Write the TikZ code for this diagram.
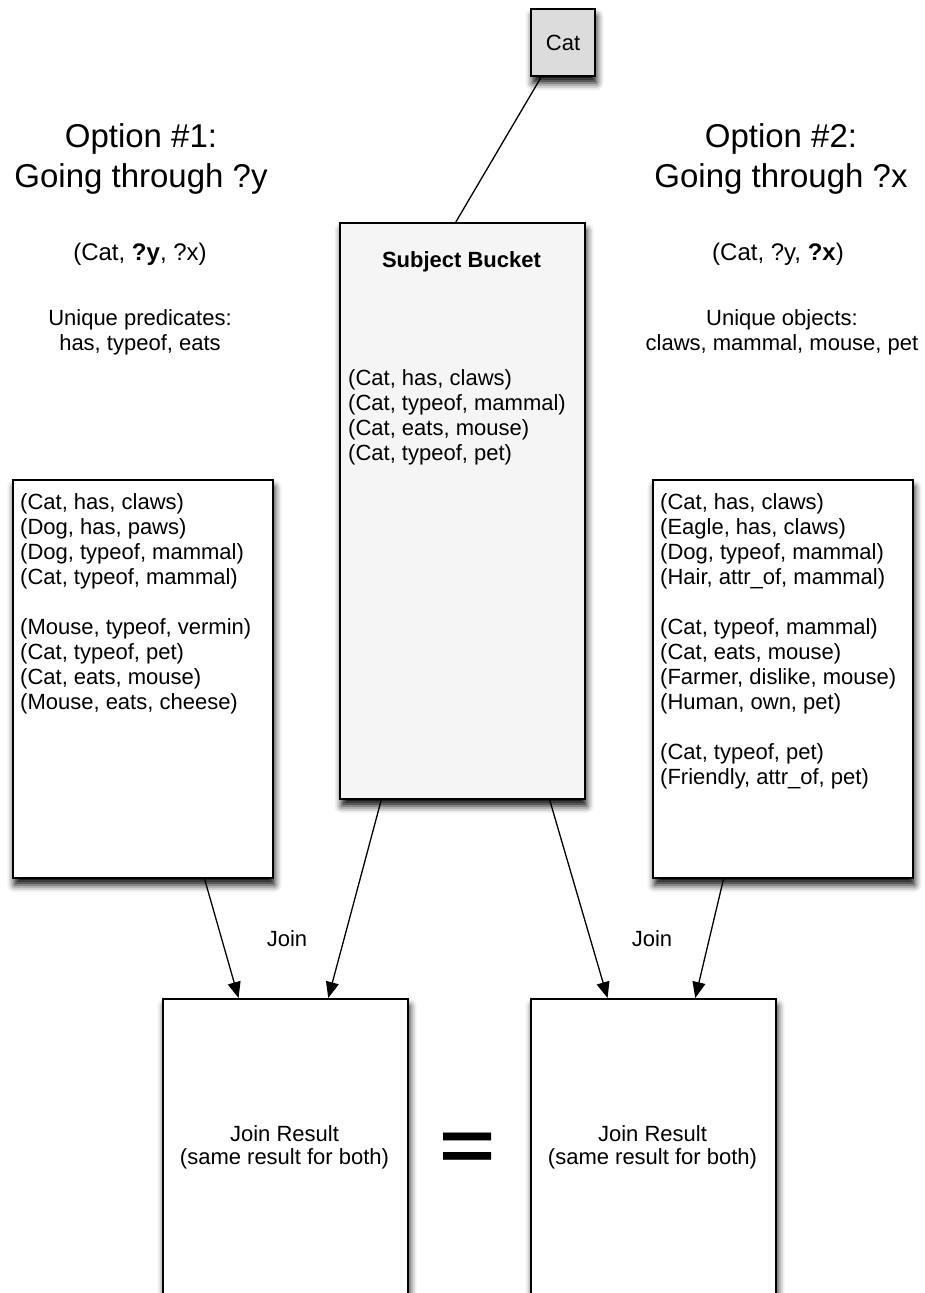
\documentclass[tikz,border=0pt]{standalone}
\usepackage{fontspec}
\setmainfont{Liberation Sans}
\usetikzlibrary{calc,arrows.meta,shadows.blur}
\definecolor{catgray}{HTML}{DCDCDC}
\definecolor{bucketgray}{HTML}{F5F5F5}
\tikzset{
  box/.style={draw=black, line width=2pt, fill=white, rectangle, inner sep=0pt,
    anchor=north west,
    blur shadow={shadow xshift=1.5pt, shadow yshift=-7pt, shadow blur radius=7pt, shadow opacity=95}},
  body/.style={font=\fontsize{22}{25}\selectfont, inner sep=0pt},
  titletext/.style={font=\fontsize{33}{40}\selectfont, inner sep=0pt, align=center, anchor=north},
  tupletext/.style={font=\fontsize{24}{28}\selectfont, inner sep=0pt, anchor=base},
  conn/.style={line width=1.3pt, draw=black},
  arr/.style={conn, -{Triangle[length=16pt,width=13pt]}},
}
\begin{document}
\begin{tikzpicture}[x=1pt,y=-1pt]
\useasboundingbox (0,0) rectangle (925,1293);
\clip (0,0) rectangle (925,1293);

% boxes
\node[box, fill=catgray, minimum width=64, minimum height=67, font=\fontsize{22}{25}\selectfont] (cat) at (530,8) {Cat};
\node[box, fill=bucketgray, minimum width=245, minimum height=576] (bucket) at (339,222) {};
\node[box, minimum width=260, minimum height=398] (opt1) at (12,479) {};
\node[box, minimum width=260, minimum height=398] (opt2) at (652,479) {};
\node[box, minimum width=245, minimum height=400] (res1) at (162,998) {};
\node[box, minimum width=245, minimum height=400] (res2) at (530,998) {};

% bucket text
\node[body, anchor=base, font=\fontsize{22}{25}\selectfont\bfseries] (sbtitle) at (461.5,267) {Subject Bucket};
\node[body, align=left, anchor=north west] (sbtext) at (348,369)
  {(Cat, has, claws)\\(Cat, typeof, mammal)\\(Cat, eats, mouse)\\(Cat, typeof, pet)};

% option 1
\node[titletext] (o1title) at (141,123) {Option \#1:\\Going through ?y};
\node[tupletext] (o1tuple) at (140,260) {(Cat, \textbf{?y}, ?x)};
\node[body, align=center, anchor=north] (o1uniq) at (140,309) {Unique predicates:\\has, typeof, eats};
\node[body, align=left, anchor=north west] (o1text) at (20,493)
  {(Cat, has, claws)\\(Dog, has, paws)\\(Dog, typeof, mammal)\\(Cat, typeof, mammal)\\[25pt]
   (Mouse, typeof, vermin)\\(Cat, typeof, pet)\\(Cat, eats, mouse)\\(Mouse, eats, cheese)};

% option 2
\node[titletext] (o2title) at (781,123) {Option \#2:\\Going through ?x};
\node[tupletext] (o2tuple) at (778,260) {(Cat, ?y, \textbf{?x})};
\node[body, align=center, anchor=north] (o2uniq) at (782,309) {Unique objects:\\claws, mammal, mouse, pet};
\node[body, align=left, anchor=north west] (o2text) at (660,493)
  {(Cat, has, claws)\\(Eagle, has, claws)\\(Dog, typeof, mammal)\\(Hair, attr\_of, mammal)\\[25pt]
   (Cat, typeof, mammal)\\(Cat, eats, mouse)\\(Farmer, dislike, mouse)\\(Human, own, pet)\\[25pt]
   (Cat, typeof, pet)\\(Friendly, attr\_of, pet)};

% join labels
\node[body, anchor=base] (join1) at (287,946) {Join};
\node[body, anchor=base] (join2) at (652,946) {Join};

% results
\node[body, align=center, anchor=north, font=\fontsize{22}{23}\selectfont] (r1text) at (284.5,1125) {Join Result\\(same result for both)};
\node[body, align=center, anchor=north, font=\fontsize{22}{23}\selectfont] (r2text) at (652.5,1125) {Join Result\\(same result for both)};
\node[inner sep=0pt, anchor=base, font=\fontsize{96}{96}\selectfont\bfseries] (eq) at (468,1170) {\scalebox{1}[0.75]{=}};

% connectors
\draw[conn] ($(cat.south west)!0.17!(cat.south east)$) -- ($(bucket.north west)!0.473!(bucket.north east)$);
\draw[arr] ($(opt1.south west)!0.735!(opt1.south east)$) -- ($(res1.north west)!0.31!(res1.north east)$);
\draw[arr] ($(bucket.south west)!0.171!(bucket.south east)$) -- ($(res1.north west)!0.673!(res1.north east)$);
\draw[arr] ($(bucket.south west)!0.853!(bucket.south east)$) -- ($(res2.north west)!0.314!(res2.north east)$);
\draw[arr] ($(opt2.south west)!0.273!(opt2.south east)$) -- ($(res2.north west)!0.669!(res2.north east)$);
\end{tikzpicture}
\end{document}
